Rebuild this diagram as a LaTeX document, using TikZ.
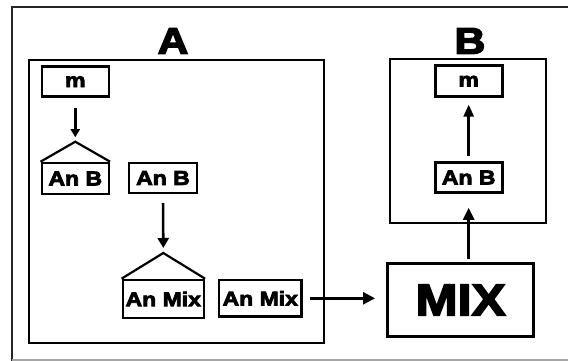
\documentclass[tikz,border=0pt]{standalone}
\usepackage{fontspec}
\newfontfamily\heavy[FakeBold=4,FakeStretch=1.15]{Liberation Sans}
\usetikzlibrary{arrows.meta}
\begin{document}
\begin{tikzpicture}[x=1pt,y=-1pt,
  box/.style={draw, line width=2.6pt, rectangle, inner sep=0pt, font=\heavy\bfseries\fontsize{20}{20}\selectfont},
  frame/.style={draw, line width=2pt},
  arr/.style={line width=2.6pt, -{Triangle[length=10pt,width=11pt]}},
  title/.style={font=\heavy\bfseries\fontsize{37}{37}\selectfont, inner sep=0pt}]
\useasboundingbox (0,0) rectangle (568,361);
% outer frame (cropped)
\draw[line width=2.5pt, black!85] (568,7) -- (12,7) -- (12,361);
\draw[line width=2pt, black!35] (12,360) -- (568,360);
% frames A and B
\node[frame, minimum width=295.3pt, minimum height=282.7pt, inner sep=0pt] (frA) at (176.35,201.35) {};
\node[frame, minimum width=155.7pt, minimum height=164.3pt, inner sep=0pt] (frB) at (467.85,141.15) {};
\node[title] (tA) at (173,41) {A};
\node[title] (tB) at (470,41) {B};
% boxes in A
\node[box, minimum width=67pt, minimum height=30pt] (m1) at (75.3,81.7) {m};
\node[box, minimum width=67pt, minimum height=31pt] (abL) at (75.3,178.5) {An B};
\coordinate (apex1) at (75.3,141.7);
\draw[line width=2.2pt, line join=miter] (abL.north west) -- (apex1) -- (abL.north east);
\node[box, minimum width=68pt, minimum height=30pt] (abM) at (163,178) {An B};
\node[box, minimum width=81pt, minimum height=38pt] (mixL) at (163.3,299) {An Mix};
\coordinate (apex2) at (163.3,253);
\draw[line width=2.2pt, line join=miter] (mixL.north west) -- (apex2) -- (mixL.north east);
\node[box, minimum width=82.7pt, minimum height=36.7pt] (mixR) at (260.3,298.3) {An Mix};
% MIX
\node[box, line width=3pt, minimum width=146pt, minimum height=73pt, font=\heavy\bfseries\fontsize{44}{44}\selectfont] (mix) at (460.5,300) {MIX};
% boxes in B
\node[box, minimum width=67pt, minimum height=31pt] (mB) at (468.7,81.2) {m};
\node[box, minimum width=67pt, minimum height=30pt] (abB) at (468.7,177.5) {An B};
% arrows
\draw[arr, -{Triangle[length=8pt,width=9pt]}, shorten <=10pt, shorten >=4.5pt] (m1.south) -- (apex1);
\draw[arr, shorten <=8.7pt, shorten >=5pt] (abM.south) -- (apex2);
\draw[arr, -{Triangle[length=12pt,width=12pt]}, shorten <=7pt, shorten >=11pt] (mixR.east) -- (mixR.east -| mix.west);
\draw[arr, -{Triangle[length=12pt,width=11pt]}, shorten <=3pt, shorten >=14pt] (abB.south |- mix.north) -- (abB.south);
\draw[arr, -{Triangle[length=12pt,width=10pt]}, shorten <=5.6pt, shorten >=6.6pt] (abB.north) -- (mB.south);
\end{tikzpicture}
\end{document}
